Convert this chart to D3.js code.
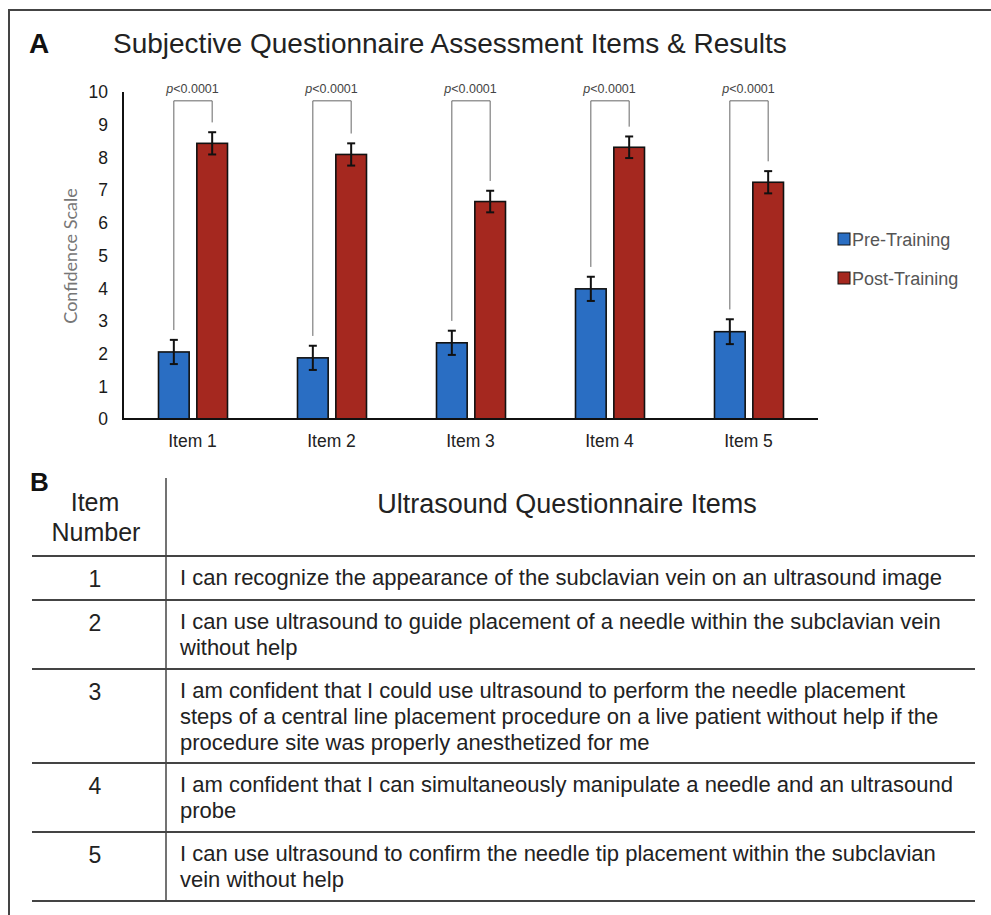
<!DOCTYPE html>
<html>
<head>
<meta charset="utf-8">
<script src="https://cdn.jsdelivr.net/npm/d3@7"></script>
<style>
  body { margin: 0; background: #fff; }
  text { font-family: "Liberation Sans", Arial, sans-serif; }
</style>
</head>
<body>
<svg id="chart" width="991" height="915"></svg>
<script>
// chart values
const categories = ["Item 1", "Item 2", "Item 3", "Item 4", "Item 5"];
const series = ["Pre-Training", "Post-Training"];
const preValues = [2.05, 1.87, 2.33, 3.98, 2.67];
const postValues = [8.43, 8.09, 6.65, 8.31, 7.24];
const preErrors = [0.37, 0.37, 0.37, 0.37, 0.38];
const postErrors = [0.34, 0.34, 0.33, 0.33, 0.34];
const pLabels = ["p<0.0001", "p<0.0001", "p<0.0001", "p<0.0001", "p<0.0001"];
const yTicks = [0, 1, 2, 3, 4, 5, 6, 7, 8, 9, 10];

// table contents
const itemNumbers = ["1", "2", "3", "4", "5"];
const itemTexts = [
  ["I can recognize the appearance of the subclavian vein on an ultrasound image"],
  ["I can use ultrasound to guide placement of a needle within the subclavian vein", "without help"],
  ["I am confident that I could use ultrasound to perform the needle placement",
   "steps of a central line placement procedure on a live patient without help if the",
   "procedure site was properly anesthetized for me"],
  ["I am confident that I can simultaneously manipulate a needle and an ultrasound", "probe"],
  ["I can use ultrasound to confirm the needle tip placement within the subclavian", "vein without help"]
];

const colors = { "Pre-Training": "#2a6ec3", "Post-Training": "#a5281f" };

const svg = d3.select("#chart");

// frame (top + left edges)
svg.append("path")
  .attr("d", "M9,915 V10 H991")
  .attr("fill", "none")
  .attr("stroke", "#444")
  .attr("stroke-width", 2);

// ---- Panel A ----
svg.append("text").attr("x", 29).attr("y", 53)
  .attr("font-size", 28).attr("font-weight", "bold").attr("fill", "#111").text("A");
svg.append("text").attr("x", 113).attr("y", 53)
  .attr("font-size", 28).attr("fill", "#222")
  .text("Subjective Questionnaire Assessment Items & Results");

const x = d3.scaleBand().domain(categories).range([123, 818]);
const xSub = d3.scaleBand().domain(series).range([35.5, 104.5]).paddingInner(0.2);
const y = d3.scaleLinear().domain([0, 10]).range([419, 92]);

const data = categories.map((c, i) => ({
  cat: c,
  pre: preValues[i], post: postValues[i],
  preErr: preErrors[i], postErr: postErrors[i],
  p: pLabels[i]
}));

// y tick labels
svg.append("g").selectAll("text").data(yTicks).enter().append("text")
  .attr("x", 108).attr("y", d => y(d)).attr("dy", "0.36em")
  .attr("text-anchor", "end").attr("font-size", 17.5).attr("fill", "#1a1a1a")
  .text(d => d);

svg.append("text")
  .attr("transform", "translate(77,256) rotate(-90)")
  .attr("text-anchor", "middle")
  .style("font-family", "Lato, 'Open Sans', sans-serif")
  .attr("font-size", 18).attr("fill", "#777")
  .text("Confidence Scale");

// bars
const groups = svg.append("g").selectAll("g").data(data).enter().append("g")
  .attr("transform", d => `translate(${x(d.cat)},0)`);

const barData = d => [
  { s: "Pre-Training", v: d.pre, e: d.preErr },
  { s: "Post-Training", v: d.post, e: d.postErr }
];

groups.selectAll("rect").data(barData).enter().append("rect")
  .attr("x", d => xSub(d.s))
  .attr("y", d => y(d.v))
  .attr("width", xSub.bandwidth())
  .attr("height", d => y(0) - y(d.v))
  .attr("fill", d => colors[d.s])
  .attr("stroke", "#111")
  .attr("stroke-width", 1.6);

// error bars
const cx = d => xSub(d.s) + xSub.bandwidth() / 2;
const eb = groups.selectAll("g.err").data(barData).enter().append("g").attr("class", "err")
  .attr("stroke", "#111").attr("stroke-width", 2);
eb.append("line").attr("x1", cx).attr("x2", cx)
  .attr("y1", d => y(d.v + d.e)).attr("y2", d => y(d.v - d.e));
eb.append("line").attr("x1", d => cx(d) - 4).attr("x2", d => cx(d) + 4)
  .attr("y1", d => y(d.v + d.e)).attr("y2", d => y(d.v + d.e));
eb.append("line").attr("x1", d => cx(d) - 4).attr("x2", d => cx(d) + 4)
  .attr("y1", d => y(d.v - d.e)).attr("y2", d => y(d.v - d.e));

// significance brackets
const bracketLevel = 9.73;
groups.append("path")
  .attr("fill", "none").attr("stroke", "#666").attr("stroke-width", 1)
  .attr("d", d => {
    const x1 = xSub("Pre-Training") + xSub.bandwidth() / 2;
    const x2 = xSub("Post-Training") + xSub.bandwidth() / 2;
    return `M${x1},${y(d.pre + d.preErr + 0.3)} V${y(bracketLevel)} H${x2} V${y(d.post + d.postErr + 0.3)}`;
  });
groups.append("text")
  .attr("x", x.bandwidth() / 2).attr("y", 93)
  .attr("text-anchor", "middle").attr("font-size", 12.5).attr("fill", "#444")
  .html(d => `<tspan font-style="italic">${d.p.slice(0, 1)}</tspan>${d.p.slice(1)}`);

// axes lines
svg.append("line").attr("x1", 123).attr("x2", 123).attr("y1", y(10)).attr("y2", y(0))
  .attr("stroke", "#111").attr("stroke-width", 2);
svg.append("line").attr("x1", 122).attr("x2", 818).attr("y1", y(0)).attr("y2", y(0))
  .attr("stroke", "#111").attr("stroke-width", 2);

// x labels
svg.append("g").selectAll("text").data(categories).enter().append("text")
  .attr("x", d => x(d) + x.bandwidth() / 2).attr("y", 447)
  .attr("text-anchor", "middle").attr("font-size", 17.5).attr("fill", "#222")
  .text(d => d);

// legend
const legend = svg.append("g").selectAll("g").data(series).enter().append("g")
  .attr("transform", (d, i) => `translate(838,${233 + i * 39})`);
legend.append("rect").attr("width", 12).attr("height", 12)
  .attr("fill", d => colors[d]).attr("stroke", "#111").attr("stroke-width", 1);
legend.append("text").attr("x", 14).attr("y", 12.5)
  .attr("font-size", 18).attr("fill", "#555").text(d => d);

// ---- Panel B ----
svg.append("text").attr("x", 30).attr("y", 491)
  .attr("font-size", 26).attr("font-weight", "bold").attr("fill", "#111").text("B");
svg.append("text").attr("x", 95).attr("y", 511).attr("text-anchor", "middle")
  .attr("font-size", 25).attr("fill", "#222").text("Item");
svg.append("text").attr("x", 96).attr("y", 541).attr("text-anchor", "middle")
  .attr("font-size", 25).attr("fill", "#222").text("Number");
svg.append("text").attr("x", 567).attr("y", 513).attr("text-anchor", "middle")
  .attr("font-size", 27).attr("fill", "#222").text("Ultrasound Questionnaire Items");

const tableLeft = 32, tableRight = 975, colX = 166, headerBottom = 556;
const lineH = 26;
let rowTops = [headerBottom];
itemTexts.forEach(t => rowTops.push(rowTops[rowTops.length - 1] + 19 + 25 * t.length));

// vertical divider
svg.append("line").attr("x1", colX).attr("x2", colX).attr("y1", 478).attr("y2", rowTops[rowTops.length - 1])
  .attr("stroke", "#444").attr("stroke-width", 1.5);

svg.append("g").selectAll("line").data(rowTops).enter().append("line")
  .attr("x1", tableLeft).attr("x2", tableRight)
  .attr("y1", d => d).attr("y2", d => d)
  .attr("stroke", "#444").attr("stroke-width", 2);

const rows = svg.append("g").selectAll("g").data(itemNumbers).enter().append("g")
  .attr("transform", (d, i) => `translate(0,${rowTops[i]})`);
rows.append("text").attr("x", 95).attr("y", 31).attr("text-anchor", "middle")
  .attr("font-size", 23).attr("fill", "#222").text(d => d);
rows.each(function (d, i) {
  d3.select(this).selectAll("text.line").data(itemTexts[i]).enter().append("text")
    .attr("class", "line")
    .attr("x", 180).attr("y", (t, j) => 29 + j * lineH)
    .attr("font-size", 22).attr("fill", "#222").text(t => t);
});
</script>
</body>
</html>
